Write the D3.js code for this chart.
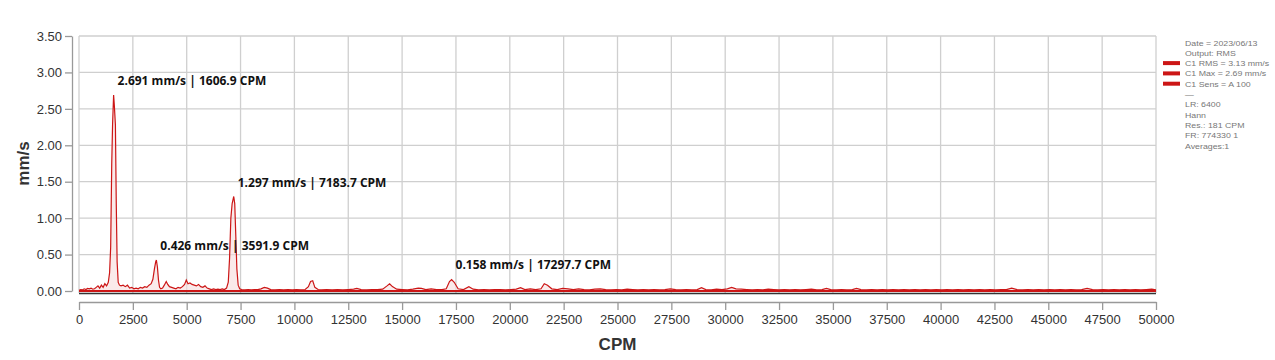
<!DOCTYPE html>
<html>
<head>
<meta charset="utf-8">
<script src="https://cdn.jsdelivr.net/npm/d3@7"></script>
<style>
  body { margin: 0; background: #fff; }
  svg { display: block; font-family: "Liberation Sans", Arial, sans-serif; }
</style>
</head>
<body>
<svg id="chart"></svg>
<script>
// spectrum points, CPM and mm/s
let cpmValues = [
  0, 80, 160, 240, 320, 400, 480, 560, 640, 720, 800, 880, 960, 1040, 1120, 1200, 1280, 1360, 1420,
  1470, 1520, 1560, 1606.9, 1640, 1690, 1730, 1770, 1820, 1880,
  1950, 2050, 2150, 2250, 2350, 2450, 2550, 2650, 2750, 2850, 2950, 3050, 3150, 3250, 3350, 3430, 3500, 3560, 3591.9, 3640, 3690, 3740, 3800, 3880, 3960,
  4050, 4120, 4200, 4300, 4400, 4500, 4600, 4700, 4800, 4900, 4980, 5060, 5150, 5250, 5350, 5450, 5550, 5650, 5750, 5850, 5950,
  6050, 6150, 6250, 6350, 6450, 6550, 6650, 6750, 6850, 6930, 6990, 7050, 7110, 7183.7, 7230, 7280, 7330, 7390, 7460, 7550, 7700, 7850,
  8000, 8150, 8300, 8450, 8600, 8750, 8900, 9100, 9300, 9500, 9700, 9900, 10100, 10300, 10500, 10650, 10750, 10850, 10950, 11100,
  11250, 11500, 11750, 12000, 12250, 12500, 12750, 12900, 13100, 13350, 13600, 13850, 14100, 14300, 14420, 14550, 14750,
  15000, 15250, 15500, 15750, 15900, 16100, 16350, 16600, 16850, 17050, 17200, 17297.7, 17420, 17600, 17850, 18100, 18300, 18550, 18800,
  19050, 19300, 19550, 19800, 20050, 20300, 20500, 20700, 20950, 21200, 21450, 21600, 21750, 21950, 22200, 22450, 22700, 22950,
  23200, 23450, 23700, 23950, 24200, 24450, 24700, 24950, 25200, 25450, 25700, 25950, 26200, 26450, 26700, 26950,
  27200, 27450, 27700, 27950, 28200, 28450, 28700, 28900, 29100, 29350, 29600, 29850, 30100, 30300, 30500, 30750,
  31000, 31250, 31500, 31750, 32000, 32250, 32500, 32750, 33000, 33250, 33500, 33750, 34000, 34250, 34500, 34700, 34900,
  35150, 35400, 35650, 35900, 36100, 36300, 36550, 36800, 37050, 37300, 37550, 37800, 38050, 38300, 38550, 38800,
  39050, 39300, 39550, 39800, 40050, 40300, 40550, 40800, 41050, 41300, 41550, 41800, 42050, 42300, 42550, 42800,
  43050, 43300, 43550, 43800, 44050, 44300, 44550, 44800, 45050, 45300, 45550, 45800, 46050, 46300, 46550, 46800,
  47050, 47300, 47550, 47800, 48050, 48300, 48550, 48800, 49050, 49300, 49550, 49800, 50000
]
let mmsValues = [
  0.01, 0.02, 0.015, 0.03, 0.02, 0.035, 0.03, 0.04, 0.025, 0.03, 0.05, 0.07, 0.04, 0.08, 0.05, 0.1, 0.07, 0.12, 0.25,
  0.6, 1.75, 2.3, 2.691, 2.55, 2.28, 1.2, 0.4, 0.12, 0.08,
  0.07, 0.08, 0.06, 0.08, 0.04, 0.05, 0.03, 0.04, 0.03, 0.05, 0.04, 0.06, 0.05, 0.08, 0.1, 0.16, 0.3, 0.4, 0.426, 0.33, 0.15, 0.05, 0.03, 0.04, 0.08,
  0.13, 0.09, 0.06, 0.05, 0.04, 0.03, 0.05, 0.04, 0.06, 0.09, 0.15, 0.1, 0.11, 0.09, 0.08, 0.07, 0.09, 0.06, 0.05, 0.07, 0.04,
  0.03, 0.02, 0.03, 0.02, 0.025, 0.02, 0.03, 0.02, 0.04, 0.12, 0.45, 1.0, 1.2, 1.297, 1.2, 0.75, 0.3, 0.08, 0.03, 0.02, 0.015, 0.02,
  0.015, 0.02, 0.02, 0.03, 0.05, 0.04, 0.02, 0.015, 0.02, 0.015, 0.02, 0.015, 0.02, 0.015, 0.02, 0.06, 0.13, 0.14, 0.05, 0.02,
  0.015, 0.02, 0.015, 0.02, 0.015, 0.02, 0.025, 0.035, 0.02, 0.015, 0.02, 0.02, 0.025, 0.07, 0.1, 0.06, 0.025,
  0.02, 0.015, 0.025, 0.04, 0.035, 0.02, 0.03, 0.02, 0.02, 0.03, 0.13, 0.158, 0.12, 0.03, 0.02, 0.06, 0.025, 0.015, 0.02,
  0.015, 0.02, 0.02, 0.015, 0.02, 0.025, 0.045, 0.02, 0.03, 0.02, 0.03, 0.1, 0.08, 0.03, 0.02, 0.035, 0.03, 0.02,
  0.03, 0.02, 0.015, 0.025, 0.03, 0.02, 0.015, 0.02, 0.015, 0.025, 0.02, 0.015, 0.02, 0.015, 0.02, 0.015,
  0.02, 0.03, 0.02, 0.015, 0.02, 0.015, 0.02, 0.045, 0.02, 0.015, 0.025, 0.02, 0.03, 0.05, 0.03, 0.025,
  0.02, 0.015, 0.02, 0.015, 0.025, 0.02, 0.015, 0.02, 0.015, 0.02, 0.015, 0.02, 0.025, 0.015, 0.02, 0.035, 0.02,
  0.015, 0.02, 0.015, 0.02, 0.035, 0.02, 0.015, 0.02, 0.015, 0.02, 0.015, 0.02, 0.015, 0.02, 0.015, 0.02,
  0.015, 0.02, 0.015, 0.02, 0.015, 0.02, 0.015, 0.02, 0.015, 0.02, 0.015, 0.02, 0.015, 0.02, 0.015, 0.02,
  0.02, 0.04, 0.02, 0.015, 0.02, 0.015, 0.02, 0.015, 0.02, 0.015, 0.02, 0.015, 0.02, 0.015, 0.02, 0.035,
  0.02, 0.015, 0.02, 0.015, 0.02, 0.015, 0.02, 0.015, 0.02, 0.015, 0.02, 0.025, 0.015
]

// labelled peaks
let peakCpm = [1606.9, 7183.7, 3591.9, 17297.7]
let peakMms = [2.691, 1.297, 0.426, 0.158]

let xTicks = d3.range(0, 50001, 2500)
let yTicks = [0, 0.5, 1, 1.5, 2, 2.5, 3, 3.5]

let legendLines = [
  "Date = 2023/06/13", "Output: RMS", "C1 RMS = 3.13 mm/s", "C1 Max = 2.69 mm/s",
  "C1 Sens = A 100", "\u2014", "LR: 6400", "Hann", "Res.: 181 CPM", "FR: 774330 1", "Averages:1"
]
let legendMarked = [2, 3, 4]

let width = 1275
let height = 360
let plotLeft = 79
let plotRight = 1156
let plotTop = 36
let zeroY = 291

let red = "#cc1616"

let svg = d3.select("#chart").attr("width", width).attr("height", height)

let xScale = d3.scaleLinear().domain([0, 50000]).range([plotLeft, plotRight])
let yScale = d3.scaleLinear().domain([0, 3.5]).range([zeroY, plotTop])

let values = cpmValues.map((c, i) => ({cpm: c, mms: mmsValues[i]}))

// grid
svg.append("g")
  .selectAll("line")
  .data(xTicks)
  .enter()
  .append("line")
  .attr("x1", d => xScale(d)).attr("x2", d => xScale(d))
  .attr("y1", plotTop).attr("y2", zeroY + 2)
  .attr("stroke", "#cfcfcf").attr("stroke-width", 1.3)

svg.append("g")
  .selectAll("line")
  .data(yTicks)
  .enter()
  .append("line")
  .attr("x1", plotLeft).attr("x2", plotRight)
  .attr("y1", d => yScale(d)).attr("y2", d => yScale(d))
  .attr("stroke", "#cfcfcf").attr("stroke-width", 1.3)

// spectrum
let area = d3.area()
  .x(d => xScale(d.cpm))
  .y0(yScale(0))
  .y1(d => yScale(d.mms))
let line = d3.line()
  .x(d => xScale(d.cpm))
  .y(d => yScale(d.mms))

svg.append("path").datum(values)
  .attr("d", area)
  .attr("fill", "#f6dcdc").attr("opacity", 0.6)

svg.append("line")
  .attr("x1", plotLeft).attr("x2", plotRight)
  .attr("y1", yScale(0)).attr("y2", yScale(0))
  .attr("stroke", red).attr("stroke-width", 1.8)

svg.append("path").datum(values)
  .attr("d", line)
  .attr("fill", "none")
  .attr("stroke", red).attr("stroke-width", 1.2)

// bottom border of plot
svg.append("line")
  .attr("x1", plotLeft).attr("x2", plotRight)
  .attr("y1", zeroY + 2.5).attr("y2", zeroY + 2.5)
  .attr("stroke", "#333").attr("stroke-width", 1.3)

// axes
let xAxis = d3.axisBottom(xScale).tickValues(xTicks).tickFormat(d3.format("d"))
  .tickSize(8).tickSizeOuter(0).tickPadding(5)
let gx = svg.append("g")
  .attr("transform", "translate(0," + (zeroY + 11) + ")")
  .call(xAxis)
gx.select(".domain").attr("stroke", "#999").attr("stroke-width", 1.3)
gx.selectAll(".tick line").attr("stroke", "#999").attr("stroke-width", 1.3)
gx.selectAll("text").attr("font-size", 13).attr("fill", "#333")

let yAxis = d3.axisLeft(yScale).tickValues(yTicks).tickFormat(d3.format(".2f")).tickSize(7).tickSizeOuter(0).tickPadding(3)
let gy = svg.append("g")
  .attr("transform", "translate(" + (plotLeft - 7) + ",0)")
  .call(yAxis)
gy.select(".domain").attr("stroke", "#999").attr("stroke-width", 1.3)
gy.selectAll(".tick line").attr("stroke", "#999").attr("stroke-width", 1.3)
gy.selectAll("text").attr("font-size", 13).attr("fill", "#333")

svg.append("text")
  .attr("x", (plotLeft + plotRight) / 2).attr("y", 350)
  .attr("text-anchor", "middle")
  .attr("font-size", 17).attr("font-weight", "bold").attr("fill", "#333")
  .text("CPM")

svg.append("text")
  .attr("transform", "translate(29," + ((plotTop + zeroY) / 2) + ") rotate(-90)")
  .attr("text-anchor", "middle")
  .attr("font-size", 17).attr("font-weight", "bold").attr("fill", "#333")
  .text("mm/s")

// peak labels
svg.append("g")
  .selectAll("text")
  .data(peakCpm)
  .enter()
  .append("text")
  .attr("x", d => xScale(d) + 4)
  .attr("y", (d, i) => yScale(peakMms[i]) - 10)
  .attr("font-family", "'Open Sans', sans-serif")
  .attr("font-size", 12).attr("font-weight", "bold").attr("fill", "#111")
  .text((d, i) => peakMms[i].toFixed(3) + " mm/s | " + d.toFixed(1) + " CPM")

// legend (text is a bit wide in the original, so stretch it)
let legend = svg.append("g")
legend.selectAll("text")
  .data(legendLines)
  .enter()
  .append("text")
  .attr("transform", (d, i) => "translate(1185," + (45.5 + i * 10.3) + ") scale(1.1,1)")
  .attr("font-size", 8).attr("fill", "#777")
  .text(d => d)
legend.selectAll("line")
  .data(legendMarked)
  .enter()
  .append("line")
  .attr("x1", 1163).attr("x2", 1180)
  .attr("y1", d => 42.5 + d * 10.3).attr("y2", d => 42.5 + d * 10.3)
  .attr("stroke", red).attr("stroke-width", 4)
</script>
</body>
</html>
